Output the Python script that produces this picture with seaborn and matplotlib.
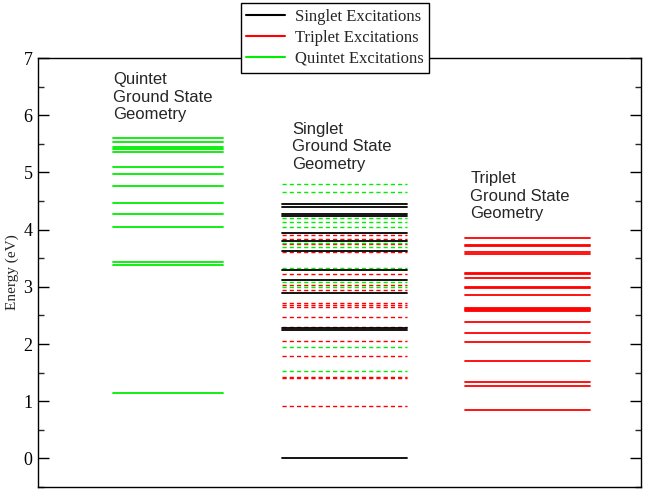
import numpy as np
import pandas as pd
import matplotlib
matplotlib.use("Agg")
import matplotlib.pyplot as plt
from matplotlib.lines import Line2D
import seaborn as sns

# ---- data (eV) ----
quintet_geom_quintet = [5.60, 5.53, 5.44, 5.41, 5.35, 5.10, 4.97, 4.77, 4.47,
                        4.27, 4.04, 3.44, 3.38, 1.15]
singlet_geom_singlet = [4.45, 4.40, 4.28, 4.24, 3.94, 3.80, 3.62, 3.30, 3.12,
                        2.89, 2.28, 2.25, 0.00]
singlet_geom_triplet = [3.91, 3.83, 3.75, 3.60, 3.23, 3.04, 2.95, 2.71, 2.68,
                        2.64, 2.47, 2.29, 2.05, 1.79, 1.43, 1.40, 0.92]
singlet_geom_quintet = [4.79, 4.66, 4.20, 4.13, 4.05, 3.77, 3.69, 3.33, 3.09,
                        3.00, 1.94, 1.53]
triplet_geom_triplet = [3.86, 3.73, 3.71, 3.61, 3.57, 3.25, 3.23, 3.16, 3.00,
                        2.98, 2.85, 2.63, 2.61, 2.59, 2.57, 2.39, 2.20, 2.04,
                        1.70, 1.34, 1.27, 0.84]

legend_labels = ["Singlet Excitations", "Triplet Excitations", "Quintet Excitations"]
column_titles = ["Quintet\nGround State\nGeometry",
                 "Singlet\nGround State\nGeometry",
                 "Triplet\nGround State\nGeometry"]

# column extents (layout)
col_x = {"Quintet": (0.124, 0.307), "Singlet": (0.405, 0.612), "Triplet": (0.708, 0.915)}

groups = [
    ("Quintet", "Quintet", "solid", quintet_geom_quintet),
    ("Singlet", "Triplet", "dashed", singlet_geom_triplet),
    ("Singlet", "Quintet", "dashed", singlet_geom_quintet),
    ("Singlet", "Singlet", "solid", singlet_geom_singlet),
    ("Triplet", "Triplet", "solid", triplet_geom_triplet),
]

rows = []
lid = 0
for geom, exc, kind, vals in groups:
    x0, x1 = col_x[geom]
    for e in vals:
        rows.append({"x": x0, "Energy": e, "level": lid, "Excitation": exc, "kind": kind})
        rows.append({"x": x1, "Energy": e, "level": lid, "Excitation": exc, "kind": kind})
        lid += 1
df = pd.DataFrame(rows)

palette = {"Singlet": "#000000", "Triplet": "#ff0000", "Quintet": "#00ee00"}

sns.set_style("white")
plt.rcParams["font.family"] = ["Liberation Serif", "DejaVu Serif"]

fig = plt.figure(figsize=(6.53, 4.90), dpi=100)
ax = fig.add_axes([38/653, 1-487/490, (641-38)/653, (487-58)/490])

solid = df[df["kind"] == "solid"]
dashed = df[df["kind"] == "dashed"]
sns.lineplot(data=dashed, x="x", y="Energy", units="level", estimator=None,
             hue="Excitation", palette=palette, linewidth=1.0, dashes=False,
             sort=False, legend=False, ax=ax)
for ln in ax.get_lines():
    ln.set_dashes((3, 2.2))
sns.lineplot(data=solid, x="x", y="Energy", units="level", estimator=None,
             hue="Excitation", palette=palette, linewidth=1.3,
             sort=False, legend=False, ax=ax)

ax.set_xlim(0, 1)
ax.set_ylim(-0.5, 7)
ax.set_xticks([])
ax.set_xlabel("")
ax.set_yticks(range(0, 8))
ax.set_yticks(np.arange(-0.5, 7.01, 0.5), minor=True)
ax.tick_params(axis="y", which="major", direction="in", length=8, width=1,
               left=True, right=True, labelsize=13, pad=4, colors="black")
ax.tick_params(axis="y", which="minor", direction="in", length=4, width=1,
               left=True, right=True)
ax.set_ylabel("Energy (eV)", fontsize=11, labelpad=3)
for s in ax.spines.values():
    s.set_visible(True)
    s.set_color("black")
    s.set_linewidth(1.0)

title_pos = [(0.124, 6.75), (0.422, 5.88), (0.717, 5.02)]
for (tx, ty), t in zip(title_pos, column_titles):
    ax.text(tx, ty, t, family=["Liberation Sans", "DejaVu Sans"], fontsize=12,
            va="top", ha="left", linespacing=1.2)

handles = [Line2D([], [], color=palette[k], lw=1.5) for k in ["Singlet", "Triplet", "Quintet"]]
leg = fig.legend(handles, legend_labels, loc="upper center",
                 bbox_to_anchor=(335/653, 1-3/490), borderaxespad=0,
                 fontsize=12, frameon=True,
                 fancybox=False, framealpha=1, edgecolor="black",
                 handlelength=2.3, borderpad=0.35, labelspacing=0.3, handletextpad=0.6)
leg.get_frame().set_linewidth(1.0)

fig.savefig("out.png", dpi=100)
